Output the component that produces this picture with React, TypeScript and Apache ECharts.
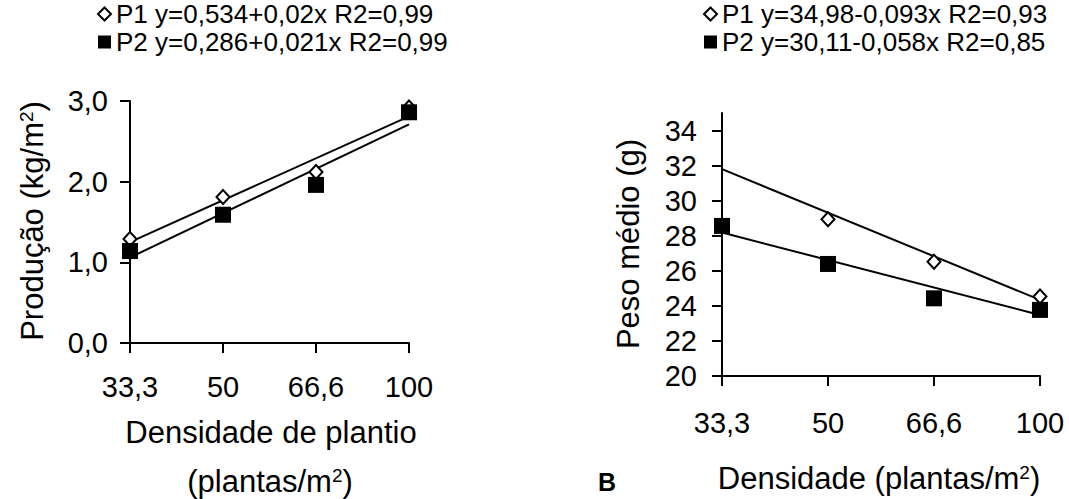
import { useEffect, useRef } from 'react';
import * as echarts from 'echarts';

const categories = ['33,3', '50', '66,6', '100'];
const prodP1 = [1.29, 1.81, 2.12, 2.92];
const prodP2 = [1.14, 1.59, 1.96, 2.86];
const prodTrendP1 = [1.25, null, null, 2.81];
const prodTrendP2 = [1.06, null, null, 2.71];
const pesoP1 = [null, 28.94, 26.52, 24.53];
const pesoP2 = [28.56, 26.39, 24.43, 23.77];
const pesoTrendP1 = [31.8, null, null, 24.34];
const pesoTrendP2 = [28.18, null, null, 23.48];
const pesoTicks = [20, 22, 24, 26, 28, 30, 32, 34];
const legendLeft = ['P1 y=0,534+0,02x R2=0,99', 'P2 y=0,286+0,021x R2=0,99'];
const legendRight = ['P1 y=34,98-0,093x R2=0,93', 'P2 y=30,11-0,058x R2=0,85'];

const FONT = '"Liberation Sans", Arial, sans-serif';
const TICK_FS = 29;
const TITLE_FS = 31;
const SUP_FS = 19;
const LEG_FS = 26;

function richTitle(parts: [string, string, string]) {
  return `{a|${parts[0]}}{s|${parts[1]}}{a|${parts[2]}}`;
}
const richStyle = {
  a: { fontSize: TITLE_FS, fontFamily: FONT, fill: '#000', verticalAlign: 'bottom' },
  s: { fontSize: SUP_FS, fontFamily: FONT, fill: '#000', verticalAlign: 'top' },
};

export default function App() {
  const ref = useRef<HTMLDivElement>(null);
  useEffect(() => {
    document.body.style.margin = '0';
    const chart = echarts.init(ref.current!, undefined, { renderer: 'svg' });
    const axisLine = { show: true, lineStyle: { color: '#000', width: 2 } };
    const axisTick = { show: true, inside: false, length: 10, lineStyle: { color: '#000', width: 2 } };
    const xLabel = (margin: number) => ({
      color: '#000', fontSize: TICK_FS, fontFamily: FONT, margin,
    });
    const scatterStyle = (filled: boolean) => ({
      color: filled ? '#000' : '#fff',
      borderColor: '#000',
      borderWidth: filled ? 0 : 2,
      opacity: 1,
    });
    const trend = (data: (number | null)[], idx: number) => ({
      type: 'line', data, xAxisIndex: idx, yAxisIndex: idx, connectNulls: true,
      showSymbol: false, symbol: 'none', z: 1, silent: true,
      lineStyle: { color: '#000', width: 2 },
    });
    const legendText = { color: '#000', fontSize: LEG_FS, fontFamily: FONT, lineHeight: 28 };
    chart.setOption({
      animation: false,
      backgroundColor: '#fff',
      grid: [
        { left: 130, top: 101, width: 279, height: 242 },
        { left: 722, top: 113, width: 318, height: 263 },
      ],
      legend: [
        {
          data: legendLeft, left: 97, top: 0, orient: 'vertical', padding: 0,
          itemWidth: 13, itemHeight: 13, itemGap: 0, itemTextGap: 4, selectedMode: false,
          textStyle: legendText,
        },
        {
          data: legendRight, left: 703, top: 0, orient: 'vertical', padding: 0,
          itemWidth: 13, itemHeight: 13, itemGap: 0, itemTextGap: 4, selectedMode: false,
          textStyle: legendText,
        },
      ],
      xAxis: [
        {
          type: 'category', gridIndex: 0, data: categories, boundaryGap: false,
          axisLine, axisTick, axisLabel: xLabel(29), splitLine: { show: false },
        },
        {
          type: 'category', gridIndex: 1, data: categories, boundaryGap: false,
          axisLine, axisTick, axisLabel: xLabel(32), splitLine: { show: false },
        },
      ],
      yAxis: [
        {
          type: 'value', gridIndex: 0, min: 0, max: 3, interval: 1,
          axisLine, axisTick, splitLine: { show: false },
          axisLabel: {
            color: '#000', fontSize: TICK_FS, fontFamily: FONT, margin: 22,
            formatter: (v: number) => v.toFixed(1).replace('.', ','),
          },
        },
        {
          type: 'value', gridIndex: 1, min: 20, max: 35, interval: 2,
          axisLine, splitLine: { show: false },
          axisTick: { ...axisTick, customValues: pesoTicks },
          axisLabel: {
            color: '#000', fontSize: TICK_FS, fontFamily: FONT, margin: 25,
            customValues: pesoTicks,
          },
        },
      ],
      series: [
        trend(prodTrendP1, 0),
        trend(prodTrendP2, 0),
        {
          name: legendLeft[0], type: 'scatter', data: prodP1, xAxisIndex: 0, yAxisIndex: 0,
          symbol: 'diamond', symbolSize: [13, 14], itemStyle: scatterStyle(false), z: 2, clip: false,
        },
        {
          name: legendLeft[1], type: 'scatter', data: prodP2, xAxisIndex: 0, yAxisIndex: 0,
          symbol: 'rect', symbolSize: 16, itemStyle: scatterStyle(true), z: 3, clip: false,
        },
        trend(pesoTrendP1, 1),
        trend(pesoTrendP2, 1),
        {
          name: legendRight[0], type: 'scatter', data: pesoP1, xAxisIndex: 1, yAxisIndex: 1,
          symbol: 'diamond', symbolSize: [13, 14], itemStyle: scatterStyle(false), z: 2, clip: false,
        },
        {
          name: legendRight[1], type: 'scatter', data: pesoP2, xAxisIndex: 1, yAxisIndex: 1,
          symbol: 'rect', symbolSize: 16, itemStyle: scatterStyle(true), z: 3, clip: false,
        },
      ],
      graphic: [
        {
          type: 'text', x: 32, y: 221, rotation: Math.PI / 2,
          style: { text: richTitle(['Produção (kg/m', '2', ')']), rich: richStyle, align: 'center', verticalAlign: 'middle' },
        },
        {
          type: 'text', x: 628, y: 244, rotation: Math.PI / 2,
          style: { text: 'Peso médio (g)', fontSize: TITLE_FS, fontFamily: FONT, fill: '#000', align: 'center', verticalAlign: 'middle' },
        },
        {
          type: 'text', x: 271, y: 432,
          style: { text: 'Densidade de plantio', fontSize: TITLE_FS, fontFamily: FONT, fill: '#000', align: 'center', verticalAlign: 'middle' },
        },
        {
          type: 'text', x: 270, y: 481,
          style: { text: richTitle(['(plantas/m', '2', ')']), rich: richStyle, align: 'center', verticalAlign: 'middle' },
        },
        {
          type: 'text', x: 879, y: 478,
          style: { text: richTitle(['Densidade (plantas/m', '2', ')']), rich: richStyle, align: 'center', verticalAlign: 'middle' },
        },
        {
          type: 'text', x: 607, y: 482,
          style: { text: 'B', fontSize: 25, fontWeight: 'bold', fontFamily: FONT, fill: '#000', align: 'center', verticalAlign: 'middle' },
        },
      ],
    });
    return () => chart.dispose();
  }, []);
  return <div ref={ref} style={{ width: 1069, height: 499 }} />;
}
